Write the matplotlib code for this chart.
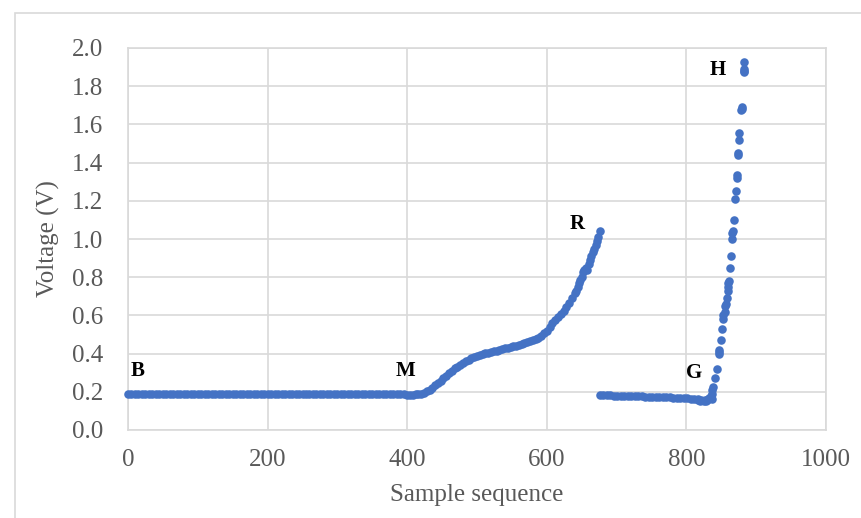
import matplotlib.pyplot as plt
from matplotlib.patches import Rectangle

# flat part B -> M
flat_x = list(range(0, 401, 5))
flat_v = [0.19, 0.19, 0.189, 0.19, 0.19, 0.188, 0.19, 0.191, 0.19, 0.189,
          0.19, 0.19, 0.189, 0.19, 0.19, 0.191, 0.19, 0.189, 0.19, 0.19,
          0.188, 0.19, 0.19, 0.191, 0.19, 0.19, 0.189, 0.19, 0.19, 0.19,
          0.191, 0.19, 0.189, 0.19, 0.19, 0.188, 0.19, 0.19, 0.191, 0.19,
          0.19, 0.189, 0.19, 0.19, 0.19, 0.191, 0.19, 0.189, 0.19, 0.19,
          0.188, 0.19, 0.19, 0.191, 0.19, 0.19, 0.189, 0.19, 0.19, 0.19,
          0.191, 0.19, 0.189, 0.19, 0.19, 0.19, 0.189, 0.19, 0.19, 0.191,
          0.19, 0.189, 0.19, 0.19, 0.188, 0.19, 0.189, 0.188, 0.187, 0.186, 0.185]

# rise M -> R
rise_x = [404, 408, 412, 416, 420, 424, 428, 432, 436, 440, 444, 448, 452, 456, 460,
          464, 468, 472, 476, 480, 484, 488, 492, 496, 500, 504, 508, 512, 516, 520,
          524, 528, 532, 536, 540, 544, 548, 552, 556, 560, 564, 568, 572, 576, 580,
          584, 588, 592, 596, 600, 604, 608, 612, 616, 620, 624, 628, 632, 636, 640,
          644, 648, 652, 656, 660, 664, 668, 672, 676,
          642, 646, 650, 654, 658, 662, 666, 670, 674]
rise_v = [0.185, 0.185, 0.186, 0.188, 0.19, 0.196, 0.203, 0.212, 0.222, 0.234, 0.246, 0.258, 0.272, 0.285, 0.298,
          0.31, 0.322, 0.332, 0.342, 0.352, 0.36, 0.368, 0.375, 0.382, 0.387, 0.392, 0.397, 0.401, 0.405, 0.408,
          0.412, 0.416, 0.419, 0.423, 0.427, 0.431, 0.435, 0.438, 0.442, 0.446, 0.45, 0.455, 0.46, 0.465, 0.47,
          0.476, 0.484, 0.494, 0.507, 0.52, 0.537, 0.558, 0.578, 0.59, 0.605, 0.622, 0.645, 0.665, 0.69, 0.715,
          0.75, 0.785, 0.825, 0.85, 0.87, 0.91, 0.95, 0.99, 1.04,
          0.73, 0.77, 0.80, 0.84, 0.84, 0.89, 0.93, 0.97, 1.01]

# second flat part -> G
g_x = list(range(676, 837, 5)) + [816, 820, 825, 828, 830, 832, 834, 835, 836, 837]
g_v = [0.183, 0.182, 0.181, 0.181, 0.18, 0.18, 0.179, 0.178, 0.178, 0.177,
       0.177, 0.176, 0.176, 0.175, 0.175, 0.174, 0.174, 0.173, 0.172, 0.172,
       0.171, 0.17, 0.169, 0.168, 0.166, 0.165, 0.163, 0.162, 0.16, 0.158,
       0.158, 0.16, 0.162,
       0.155, 0.153, 0.15, 0.152, 0.155, 0.165, 0.17, 0.18, 0.19, 0.21]

# steep rise G -> H
h_x = [838, 841, 844, 846, 847, 847, 850, 851, 852, 853, 855, 856, 857, 858, 859, 860, 860,
       861, 862, 864, 865, 866, 867, 868, 870, 871, 872, 872, 874, 874, 875, 875,
       878, 879, 880, 882, 883, 883, 882]
h_v = [0.225, 0.27, 0.32, 0.40, 0.41, 0.42, 0.47, 0.53, 0.58, 0.60, 0.62, 0.65, 0.66, 0.69, 0.75, 0.73, 0.77,
       0.78, 0.85, 0.91, 1.0, 1.03, 1.04, 1.10, 1.21, 1.25, 1.32, 1.335, 1.44, 1.45, 1.52, 1.555,
       1.675, 1.68, 1.69, 1.875, 1.88, 1.89, 1.925]

point_labels = ['B', 'M', 'R', 'G', 'H']
label_x = [14, 397, 643, 811, 845]
label_v = [0.31, 0.31, 1.08, 0.30, 1.885]

blue = '#4472C4'
grey_txt = '#595959'
grid_c = '#d9d9d9'

plt.rcParams['font.family'] = ['Liberation Serif', 'DejaVu Serif']

fig = plt.figure(figsize=(8.61, 5.18), dpi=100)
ax = fig.add_axes([128 / 861, 1 - 430 / 518, 698 / 861, 382 / 518])

# outer chart frame (runs off the right and bottom of the picture)
fig.patches.append(Rectangle((15 / 861, -0.2), 1.2, 1.2 - 13 / 518,
                             transform=fig.transFigure, fill=False,
                             edgecolor=grid_c, linewidth=1.2))

for xs, vs in [(flat_x, flat_v), (rise_x, rise_v), (g_x, g_v), (h_x, h_v)]:
    ax.scatter(xs, vs, s=38, color=blue, linewidths=0, zorder=3, clip_on=False)

for t, x, v in zip(point_labels, label_x, label_v):
    ax.text(x, v, t, fontsize=15, fontweight='bold', color='black',
            ha='center', va='center', zorder=4)

ax.set_xlim(0, 1000)
ax.set_ylim(0, 2.0)
ax.set_xticks([0, 200, 400, 600, 800, 1000])
ax.set_yticks([i / 5 for i in range(11)])
ax.set_yticklabels([f'{i / 5:.1f}' for i in range(11)])
ax.grid(True, color=grid_c, linewidth=1.2, zorder=0)
ax.set_axisbelow(True)
for s in ax.spines.values():
    s.set_color(grid_c)
    s.set_linewidth(1.2)
ax.tick_params(length=0, labelsize=18, colors=grey_txt)
ax.tick_params(axis='x', pad=14)
ax.tick_params(axis='y', pad=18)

ax.set_xlabel('Sample sequence', fontsize=18, color=grey_txt)
ax.set_ylabel('Voltage (V)', fontsize=18, color=grey_txt)
ax.xaxis.set_label_coords(0.5, (430 - 484) / 382)
ax.yaxis.set_label_coords((60 - 128) / 698, 0.5)

fig.savefig('out.png', dpi=100)
